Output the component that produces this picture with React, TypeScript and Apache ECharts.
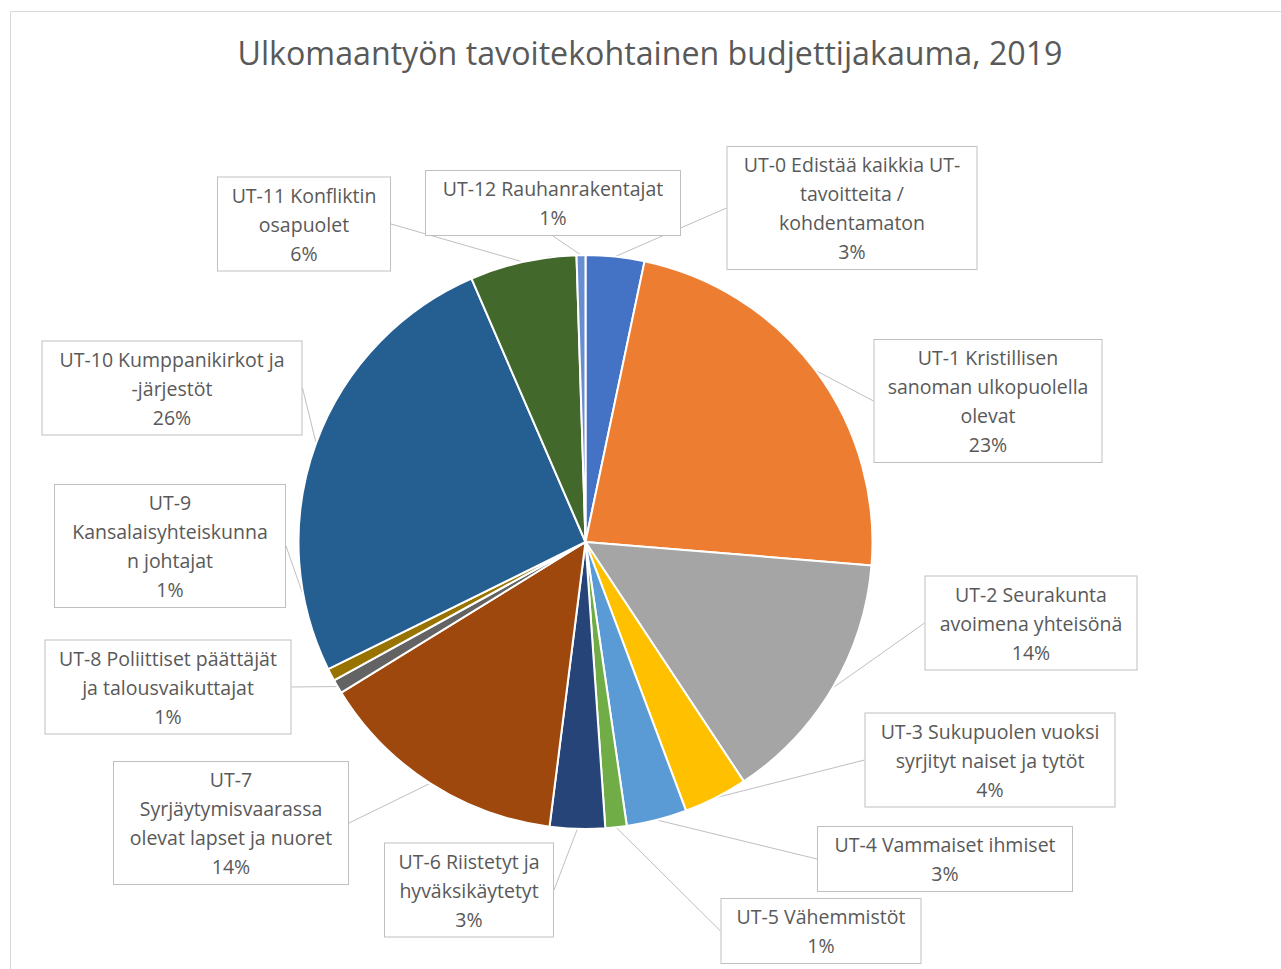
import React, { useEffect, useRef } from "react";
import * as echarts from "echarts";

const titleText = "Ulkomaantyön tavoitekohtainen budjettijakauma, 2019";

const categories = [
  "UT-0 Edistää kaikkia UT-\ntavoitteita /\nkohdentamaton",
  "UT-1 Kristillisen\nsanoman ulkopuolella\nolevat",
  "UT-2 Seurakunta\navoimena yhteisönä",
  "UT-3 Sukupuolen vuoksi\nsyrjityt naiset ja tytöt",
  "UT-4 Vammaiset ihmiset",
  "UT-5 Vähemmistöt",
  "UT-6 Riistetyt ja\nhyväksikäytetyt",
  "UT-7\nSyrjäytymisvaarassa\nolevat lapset ja nuoret",
  "UT-8 Poliittiset päättäjät\nja talousvaikuttajat",
  "UT-9\nKansalaisyhteiskunna\nn johtajat",
  "UT-10 Kumppanikirkot ja\n-järjestöt",
  "UT-11 Konfliktin\nosapuolet",
  "UT-12 Rauhanrakentajat",
];

const values = [3.3, 23.0, 14.4, 3.6, 3.4, 1.2, 3.1, 14.2, 0.8, 0.7, 25.8, 6.0, 0.5];

const colors = [
  "#4472C4", "#ED7D31", "#A5A5A5", "#FFC000", "#5B9BD5", "#70AD47",
  "#264478", "#9E480E", "#636363", "#997300", "#255E91", "#43682B", "#698ED0",
];

// label box layout: centre x, centre y, box width (px)
const labelBoxes = [
  { cx: 852, cy: 208, w: 249 },
  { cx: 988, cy: 401, w: 227 },
  { cx: 1031, cy: 623, w: 211 },
  { cx: 990, cy: 760, w: 249 },
  { cx: 945, cy: 859, w: 254 },
  { cx: 821, cy: 931, w: 199 },
  { cx: 469, cy: 890, w: 168 },
  { cx: 231, cy: 823, w: 234 },
  { cx: 168, cy: 687, w: 245 },
  { cx: 170, cy: 546, w: 230 },
  { cx: 172, cy: 388, w: 259 },
  { cx: 304, cy: 224, w: 172 },
  { cx: 553, cy: 203, w: 254 },
];

export default function App() {
  const ref = useRef<HTMLDivElement>(null);
  useEffect(() => {
    if (!ref.current) return;
    const chart = echarts.init(ref.current, null, { renderer: "svg" });
    const data = categories.map((name, i) => ({
      name,
      value: values[i],
      itemStyle: { color: colors[i] },
      label: { width: labelBoxes[i].w - 10 },
    }));
    chart.setOption({
      animation: false,
      backgroundColor: "#ffffff",
      graphic: [
        {
          type: "rect",
          shape: { x: 10.5, y: 11.5, width: 1300, height: 1000 },
          style: { fill: "none", stroke: "#d9d9d9", lineWidth: 1 },
          silent: true,
        },
      ],
      title: {
        text: titleText,
        left: 645,
        top: 31,
        textAlign: "center",
        textStyle: {
          fontFamily: "Open Sans",
          fontSize: 32.2,
          fontWeight: "normal",
          color: "#595959",
        },
      },
      series: [
        {
          type: "pie",
          center: [585.5, 542],
          radius: [0, 287],
          startAngle: 90,
          clockwise: true,
          data,
          itemStyle: { borderColor: "#ffffff", borderWidth: 2 },
          label: {
            show: true,
            formatter: (p: any) => `${p.name}\n${Math.round(p.value)}%`,
            fontFamily: "Open Sans",
            fontSize: 19.5,
            lineHeight: 29,
            color: "#595959",
            align: "center",
            overflow: "none",
            backgroundColor: "#ffffff",
            borderColor: "#bfbfbf",
            borderWidth: 1,
            padding: [3, 5],
          },
          labelLine: {
            show: true,
            length: 10,
            length2: 0,
            lineStyle: { color: "#bfbfbf", width: 1 },
          },
          labelLayout: (params: any) => {
            const b = labelBoxes[params.dataIndex];
            return { x: b.cx, y: b.cy, align: "center", verticalAlign: "middle" };
          },
        },
      ],
    });
    return () => chart.dispose();
  }, []);
  return (
    <div
      ref={ref}
      style={{ position: "fixed", left: 0, top: 0, width: 1281, height: 969 }}
    />
  );
}
